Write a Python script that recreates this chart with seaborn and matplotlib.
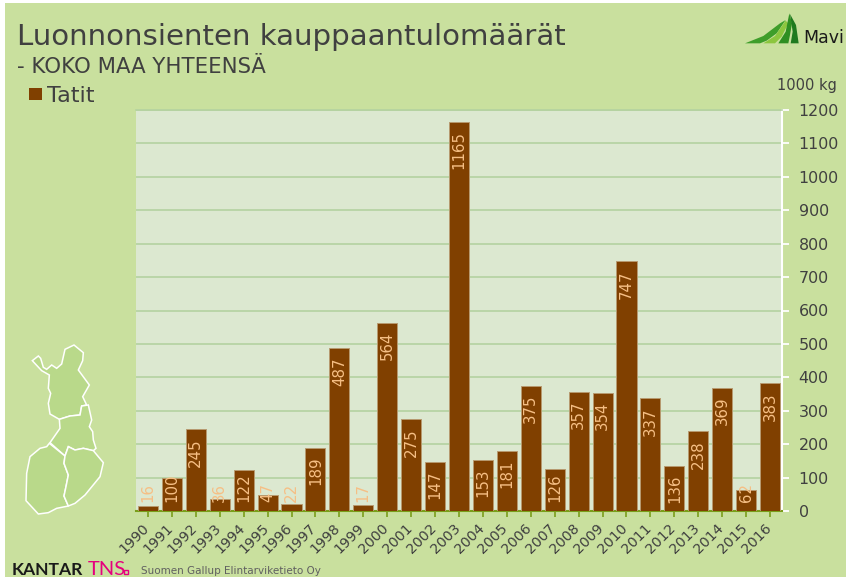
import matplotlib
matplotlib.use("Agg")
import matplotlib.pyplot as plt
from matplotlib.patches import Polygon, Rectangle
from matplotlib.transforms import ScaledTranslation
import pandas as pd
import seaborn as sns

years = [str(y) for y in range(1990, 2017)]
values = [16, 100, 245, 36, 122, 47, 22, 189, 487, 17, 564, 275, 147, 1165,
          153, 181, 375, 126, 357, 354, 747, 337, 136, 238, 369, 62, 383]
series_name = "Tatit"
title = "Luonnonsienten kauppaantulomäärät"
subtitle = "- KOKO MAA YHTEENSÄ"
unit = "1000 kg"
source = "Suomen Gallup Elintarviketieto Oy"

W, H = 846, 577
BG = "#C9E09E"
PLOT = "#DCE8D0"
GRID = "#B4D2A0"
BAR = "#804000"
BAR_EDGE = "#B79A70"
LABEL = "#F6BF85"
TEXT = "#404040"

sns.set_theme(style="white")
plt.rcParams["font.family"] = ["DejaVu Sans"]
fig = plt.figure(figsize=(W / 100, H / 100), dpi=100, facecolor="white")

def fx(x): return x / W
def fy(y): return 1 - y / H

fig.patches.append(Rectangle((fx(5), 0), 1 - fx(5), fy(3), transform=fig.transFigure,
                             facecolor=BG, edgecolor="none", zorder=-5))

ax = fig.add_axes([fx(136), fy(511), (782 - 136) / W, (511 - 110) / H], facecolor=PLOT)
df = pd.DataFrame({"year": years, "value": values})
sns.barplot(data=df, x="year", y="value", ax=ax, color=BAR, saturation=1, width=0.84,
            edgecolor=BAR_EDGE, linewidth=0.7, zorder=3)
for p in ax.patches:
    p.set_facecolor(BAR)
ax.set_xlim(-0.5, len(years) - 0.5)
ax.set_ylim(0, 1200)
ax.set_xlabel("")
ax.set_ylabel("")
ax.set_yticks(range(0, 1201, 100))
ax.yaxis.tick_right()
ax.grid(axis="y", color=GRID, linewidth=1.2, zorder=1)
ax.set_axisbelow(True)
ax.spines["left"].set_visible(False)
ax.spines["top"].set_color(GRID)
ax.spines["top"].set_linewidth(1.2)
ax.spines["bottom"].set_color("#7A9E1A")
ax.spines["bottom"].set_linewidth(1.5)
ax.spines["right"].set_color("white")
ax.spines["right"].set_linewidth(1.5)
ax.tick_params(axis="y", right=True, left=False, length=5, width=1.3, color="white",
               labelsize=11.4, labelcolor=TEXT, pad=7)
ax.tick_params(axis="x", bottom=True, length=4, width=1.2, color="#7A9E1A",
               labelsize=10.2, labelcolor=TEXT, pad=3)
plt.setp(ax.get_xticklabels(), rotation=45, ha="right", va="top", rotation_mode="anchor")
shift = ScaledTranslation(-6 / 100, 0, fig.dpi_scale_trans)
for lab in ax.get_xticklabels():
    lab.set_transform(lab.get_transform() + shift)

px_per_val = 401 / 1200
for i, v in enumerate(values):
    bar_px = v * px_per_val
    n = len(str(v))
    text_px = 9 * n
    if bar_px - 8 - text_px < 9:
        ax.annotate(str(v), (i, 0), xytext=(0, 9 * 0.72), textcoords="offset points",
                    rotation=90, ha="center", va="bottom", color=LABEL, fontsize=10.8, zorder=5)
    else:
        ax.annotate(str(v), (i, v), xytext=(0, -9 * 0.72), textcoords="offset points",
                    rotation=90, ha="center", va="top", color=LABEL, fontsize=10.8, zorder=5)

fig.text(fx(17), fy(45), title, fontsize=21.1, color=TEXT, va="baseline", ha="left")
fig.text(fx(17), fy(73), subtitle, fontsize=15.3, color=TEXT, va="baseline", ha="left")
fig.text(fx(777), fy(90), unit, fontsize=10.5, color=TEXT, va="baseline", ha="left")

handle = Rectangle((0, 0), 1, 1, facecolor=BAR, edgecolor="none")
fig.legend([handle], [series_name], loc="center left", bbox_to_anchor=(fx(29), fy(96)),
           frameon=False, fontsize=16, labelcolor=TEXT, handlelength=0.6, handleheight=0.5,
           handletextpad=0.2, borderpad=0, borderaxespad=0)

# Finland outline (decoration), in zoomed pixel coordinates
def mp(points):
    return [(fx(x / 3), fy(340 + y / 3)) for x, y in points]

regions = [
    [(97,62),(115,48),(122,55),(130,82),(140,88),(155,75),(170,85),(185,72),(195,28),(222,15),
     (250,38),(248,62),(235,90),(268,135),(248,170),(260,195),(245,198),(240,225),(210,228),
     (178,238),(150,222),(145,190),(152,160),(145,145),(148,105),(125,92)],
    [(178,238),(210,228),(240,225),(245,198),(265,195),(275,240),(268,260),(278,275),(280,300),
     (288,325),(280,332),(250,325),(225,330),(205,320),(195,348),(150,308),(180,265)],
    [(148,310),(195,348),(192,370),(205,405),(198,440),(192,468),(205,498),(170,505),(145,518),
     (115,522),(78,482),(80,400),(90,350),(120,325),(140,320)],
    [(195,348),(205,320),(225,330),(250,325),(280,332),(310,368),(300,410),(255,465),(225,490),
     (205,498),(192,468),(198,440),(205,405),(192,370)],
]
for r in regions:
    fig.patches.append(Polygon(mp(r), closed=True, transform=fig.transFigure,
                               facecolor="#B9D98A", edgecolor="white", linewidth=1.1, zorder=2))

# Mavi logo (decoration)
def lg(points):
    return [(fx(620 + x / 3), fy(y / 3)) for x, y in points]

logo = [
    ([(375,130),(430,108),(480,70),(497,60),(470,100),(440,122),(420,130)], "#3E9E2A"),
    ([(430,130),(465,108),(497,62),(505,70),(485,110),(465,130)], "#8CC63F"),
    ([(475,130),(497,95),(508,40),(516,70),(510,105),(505,130)], "#2F8F22"),
    ([(512,130),(518,95),(510,42),(528,75),(536,130)], "#1F7A1F"),
]
for pts, c in logo:
    fig.patches.append(Polygon(lg(pts), closed=True, transform=fig.transFigure,
                               facecolor=c, edgecolor="none", zorder=2))
fig.text(fx(803), fy(43), "Mavi", fontsize=12.5, color="#1A1A1A", va="baseline", ha="left")

# Footer
fig.text(fx(12), fy(575), "KANTAR", fontsize=12.6, family="Lato", weight="bold",
         color="#1A1A1A", va="baseline", ha="left")
fig.text(fx(88), fy(575), "TNS", fontsize=14.5, family="Lato",
         color="#E6007E", va="baseline", ha="left")
fig.patches.append(Rectangle((fx(124), fy(574)), 4 / W, 4 / H, transform=fig.transFigure,
                             facecolor="none", edgecolor="#E6007E", linewidth=1))
fig.text(fx(141), fy(574.5), source, fontsize=7.5, color="#606060", va="baseline", ha="left")

fig.savefig("out.png", dpi=100, facecolor="white")
